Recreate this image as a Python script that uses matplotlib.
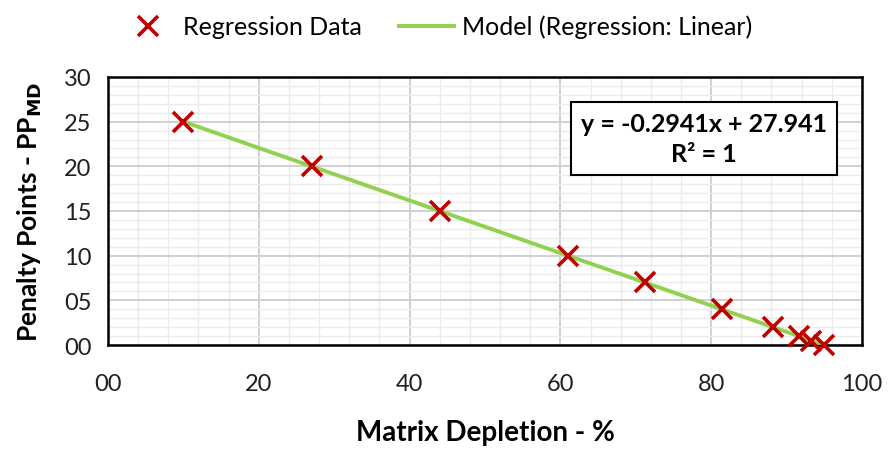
import numpy as np
import matplotlib.pyplot as plt
from matplotlib.ticker import MultipleLocator, FuncFormatter

# regression data
depletion = [10, 27, 44, 61, 71.2, 81.4, 88.2, 91.6, 93.3, 95]
penalty = [25, 20, 15, 10, 7, 4, 2, 1, 0.5, 0]

slope = -0.2941
intercept = 27.941

plt.rcParams["font.family"] = ["Lato", "DejaVu Sans"]

fig = plt.figure(figsize=(8.96, 4.52), dpi=100)
ax = fig.add_axes([0.1205, 0.2345, 0.8415, 0.593])

x_fit = np.array([min(depletion), max(depletion)])
ax.plot(x_fit, slope * x_fit + intercept, color="#92D050", lw=2.8,
        label="Model (Regression: Linear)", zorder=3)
ax.plot(depletion, penalty, ls="none", marker="x", color="#C00000",
        ms=14, mew=2.6, label="Regression Data", zorder=4, clip_on=False)

ax.set_xlim(0, 100)
ax.set_ylim(0, 30)
ax.xaxis.set_major_locator(MultipleLocator(20))
ax.xaxis.set_minor_locator(MultipleLocator(4))
ax.yaxis.set_major_locator(MultipleLocator(5))
ax.yaxis.set_minor_locator(MultipleLocator(1))
fmt = FuncFormatter(lambda v, p: f"{int(round(v)):02d}")
ax.xaxis.set_major_formatter(fmt)
ax.yaxis.set_major_formatter(fmt)

ax.grid(which="major", color="#D0D0D0", lw=1.4)
ax.grid(which="minor", color="#EBEBEB", lw=1.0)
ax.set_axisbelow(True)
ax.tick_params(which="both", length=0, labelsize=17, colors="#202020")
ax.tick_params(axis="x", pad=20)
ax.tick_params(axis="y", pad=12)
for s in ax.spines.values():
    s.set_linewidth(1.8)
    s.set_color("black")

ax.set_xlabel("Matrix Depletion - %", fontsize=20, fontweight="bold", labelpad=18)
ax.set_ylabel("Penalty Points - PP$_{\\mathbf{MD}}$", fontsize=19,
              fontweight="bold", labelpad=14)

ax.text(0.79, 0.77, "y = -0.2941x + 27.941\nR² = 1", transform=ax.transAxes,
        ha="center", va="center", fontsize=18, fontweight="bold",
        linespacing=1.35,
        bbox=dict(boxstyle="square,pad=0.4", fc="white", ec="black", lw=1.5))

handles, labels = ax.get_legend_handles_labels()
fig.legend(handles[::-1], labels[::-1], loc="upper center",
           bbox_to_anchor=(0.487, 1.015), ncol=2, frameon=False, fontsize=18,
           handlelength=2.2, columnspacing=1.5, handletextpad=0.3)

fig.savefig("out.png", dpi=100)
